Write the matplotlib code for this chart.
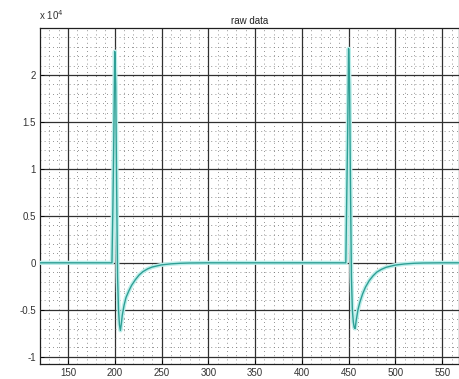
import matplotlib
matplotlib.use("Agg")
import matplotlib.pyplot as plt
from matplotlib.ticker import MultipleLocator, FuncFormatter

plt.rcParams['font.family'] = ['Liberation Sans', 'DejaVu Sans']

# sample index and raw signal values
x_vals = [120, 150, 180, 195, 196, 197, 198, 199, 200, 201, 202, 203, 204,
          205, 206, 207, 208, 210, 212, 215, 218, 222, 226, 230, 235, 240,
          250, 260, 270, 280, 300, 350, 400, 440, 445, 446, 447, 448, 449,
          450, 451, 452, 453, 454, 455, 456, 457, 458, 460, 462, 465, 468,
          472, 476, 480, 485, 490, 500, 510, 520, 530, 550, 570]
y_vals = [0, 0, 0, 0, 0, 0, 6000, 13500, 22500, 19000, 8000, -1500, -5000,
          -6600, -7200, -6500, -5600, -4500, -3700, -3000, -2400, -1800, -1300,
          -950, -650, -450, -220, -110, -50, -20, 0, 0, 0, 0, 0, 0, 0, 7000,
          14000, 22800, 19000, 8000, -1500, -5000, -6300, -6900, -7000, -6200,
          -5000, -4200, -3300, -2600, -1900, -1400, -1000, -700, -480, -240,
          -120, -50, -20, 0, 0]

x_ticks = [150, 200, 250, 300, 350, 400, 450, 500, 550]
y_ticks = [-10000, -5000, 0, 5000, 10000, 15000, 20000]

fig = plt.figure(figsize=(4.59, 3.79), dpi=100)
ax = fig.add_axes([0.087, 0.039, 0.913, 0.887])

ax.plot(x_vals, y_vals, color='#bdeeea', lw=3.0, solid_joinstyle='round', zorder=3)
ax.plot(x_vals, y_vals, color='#2e9f95', lw=1.0, zorder=4)

ax.set_xlim(120, 568)
ax.set_ylim(-10800, 25000)
ax.set_xticks(x_ticks)
ax.set_yticks(y_ticks)
ax.xaxis.set_minor_locator(MultipleLocator(10))
ax.yaxis.set_minor_locator(MultipleLocator(1000))
ax.yaxis.set_major_formatter(FuncFormatter(lambda v, p: ('%g' % (v / 1e4))))

ax.grid(which='major', color='#303030', lw=0.9, ls='-')
ax.grid(which='minor', color='#707070', lw=0.6, ls=(0, (1, 4)))
ax.set_axisbelow(True)

ax.tick_params(which='both', direction='in', labelsize=7, length=3,
               width=0.6, pad=3, labelcolor='#333333')
ax.tick_params(which='minor', length=0)
for s in ax.spines.values():
    s.set_linewidth(0.9)
    s.set_color('#202020')

ax.set_title('raw data', fontsize=7, pad=3, color='#222222')
fig.text(0.085, 0.943, r'x 10$^{4}$', fontsize=7, ha='left', va='bottom',
         color='#333333')

fig.savefig('out.png', dpi=100)
